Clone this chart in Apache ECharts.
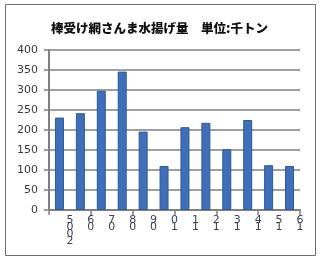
<!DOCTYPE html>
<html><head><meta charset="utf-8">
<script src="https://cdn.jsdelivr.net/npm/echarts@6/dist/echarts.min.js"></script>
<style>html,body{margin:0;padding:0;background:#fff}#c{width:320px;height:261px}</style>
</head><body><div id="c"></div>
<script>
const titleText = '棒受け網さんま水揚げ量　単位:千トン';
const years = ['2005','2006','2007','2008','2009','2010','2011','2012','2013','2014','2015','2016'];
const catch_kt = [231, 242, 298, 346, 196, 110, 207, 218, 152, 225, 112, 110];
const tickLabels = ['5\n0\n0\n2','6\n0','7\n0','8\n0','9\n0','0\n1','1\n1','2\n1','3\n1','4\n1','5\n1','6\n1'];
const yTicks = [0, 50, 100, 150, 200, 250, 300, 350, 400];

const chart = echarts.init(document.getElementById('c'), null, {renderer:'canvas'});
chart.setOption({
  animation: false,
  backgroundColor: '#fff',
  graphic: [{
    type: 'rect', shape: {x: 5.5, y: 4.5, width: 310, height: 251},
    style: {fill: 'none', stroke: '#6e6e6e', lineWidth: 1}, z: -1
  }],
  title: {
    text: titleText, left: 46, top: 17,
    textStyle: {fontFamily: 'Noto Sans CJK JP', fontSize: 12.5, fontWeight: 900, color: '#111'}
  },
  grid: {left: 49, right: 20, top: 50, bottom: 51},
  xAxis: [{
    type: 'category', data: years, boundaryGap: true,
    axisLine: {lineStyle: {color: '#808080', width: 2}},
    axisTick: {show: true, length: 5, lineStyle: {color: '#808080', width: 1.5}},
    axisLabel: {show: false}
  }, {
    type: 'category', data: [''].concat(tickLabels), boundaryGap: false, position: 'bottom',
    axisLine: {show: false}, axisTick: {show: false}, splitLine: {show: false},
    axisLabel: {interval: 0, margin: 7, lineHeight: 7, fontSize: 11, color: '#404050',
      fontFamily: 'DejaVu Sans', verticalAlign: 'top'}
  }],
  yAxis: {
    type: 'value', min: 0, max: 400, interval: 50,
    axisLine: {show: true, lineStyle: {color: '#808080', width: 2}},
    axisTick: {show: true, length: 5, lineStyle: {color: '#808080', width: 1.5}},
    splitLine: {show: true, lineStyle: {color: '#7f7f7f', width: 1.5}},
    axisLabel: {margin: 11, fontSize: 11, color: '#3a3a3a', fontFamily: 'DejaVu Sans',
      formatter: v => yTicks.includes(v) ? String(v) : ''}
  },
  series: [{
    type: 'bar', data: catch_kt, xAxisIndex: 0, barWidth: 9,
    itemStyle: {color: '#3f6fb8', borderColor: '#2d5a9c', borderWidth: 1}
  }]
});
</script></body></html>
